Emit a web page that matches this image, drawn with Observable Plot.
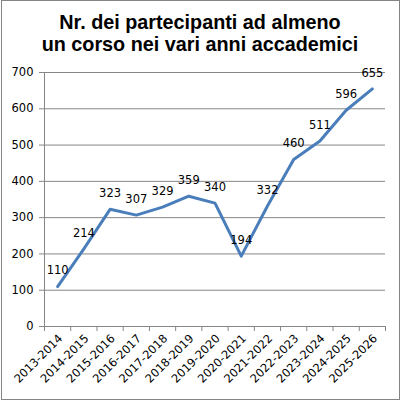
<!DOCTYPE html>
<html>
<head>
<meta charset="utf-8">
<script src="https://cdn.jsdelivr.net/npm/d3@7"></script>
<script src="https://cdn.jsdelivr.net/npm/@observablehq/plot@0.6"></script>
<style>
  html, body { margin: 0; padding: 0; background: #fff; }
  #wrap { position: relative; width: 400px; height: 400px; overflow: hidden; background: #fff; }
  #title { position: absolute; left: 0; top: 0; width: 400px; height: 60px; box-sizing: border-box;
    padding-top: 11px; text-align: center; font-family: "Liberation Sans", Arial, sans-serif;
    font-weight: bold; font-size: 19.8px; line-height: 22.4px; color: #000; }
  #chart { position: absolute; left: 0; top: 60px; }
  #frame { position: absolute; left: 1px; top: 0px; width: 399px; height: 400px; box-sizing: border-box;
    border: 1.5px solid #858585; pointer-events: none; }
</style>
</head>
<body>
<div id="wrap">
  <div id="title">Nr. dei partecipanti ad almeno<br>un corso nei vari anni accademici</div>
  <div id="chart"></div>
  <div id="frame"></div>
</div>
<script>
const categories = ["2013-2014","2014-2015","2015-2016","2016-2017","2017-2018","2018-2019","2019-2020","2020-2021","2021-2022","2022-2023","2023-2024","2024-2025","2025-2026"];
const values = [110, 214, 323, 307, 329, 359, 340, 194, 332, 460, 511, 596, 655];
const yTicks = [0, 100, 200, 300, 400, 500, 600, 700];

const data = categories.map((c, i) => ({cat: c, idx: i, value: values[i]}));
const boundaries = d3.range(categories.length + 1);
const centers = categories.map((c, i) => i + 0.5);
const gray = "#868686";

const plot = Plot.plot({
  width: 400,
  height: 340,
  marginTop: 12,
  marginBottom: 74,
  marginLeft: 44,
  marginRight: 15,
  style: {fontFamily: "DejaVu Sans", fontSize: "11.5px", color: "#000", background: "transparent"},
  x: {domain: [0, categories.length], axis: null},
  y: {domain: [0, 700], axis: null},
  marks: [
    Plot.gridY(yTicks, {stroke: gray, strokeOpacity: 1, strokeWidth: 1}),
    Plot.ruleX([0], {stroke: gray, strokeWidth: 1}),
    Plot.axisY(yTicks, {tickSize: 5, tickPadding: 6, stroke: gray, strokeOpacity: 1, label: null, tickFormat: d => String(d), fill: "#000"}),
    Plot.axisX(boundaries, {tickSize: 5, stroke: gray, strokeOpacity: 1, label: null, tickFormat: () => ""}),
    Plot.axisX(centers, {tickSize: 0, tickPadding: 10, dx: 3, tickRotate: -45, label: null, fill: "#000", tickFormat: d => categories[Math.floor(d)]}),
    Plot.line(data, {x: d => d.idx + 0.5, y: "value", stroke: "#4a7ebb", strokeWidth: 3, strokeLinejoin: "round"}),
    Plot.text(data, {x: d => d.idx + 0.5, y: "value", text: d => String(d.value), dy: -16, fill: "#000", fontSize: 11.5})
  ]
});
document.getElementById("chart").appendChild(plot);
</script>
</body>
</html>
